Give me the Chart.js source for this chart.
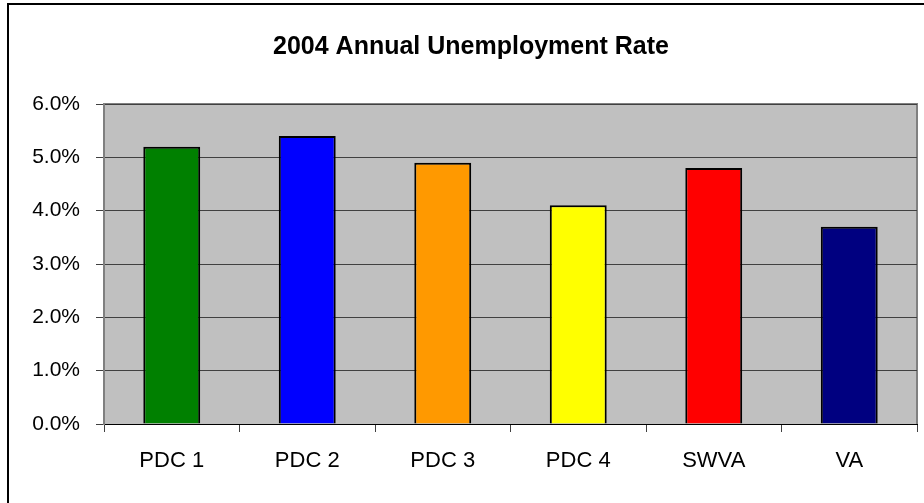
<!DOCTYPE html>
<html>
<head>
<meta charset="utf-8">
<script src="https://cdn.jsdelivr.net/npm/chart.js@4/dist/chart.umd.min.js"></script>
<style>
  html, body { margin: 0; padding: 0; background: #fff; }
  #wrap { width: 924px; height: 503px; position: relative; }
</style>
</head>
<body>
<div id="wrap"><canvas id="rateChart" width="924" height="503"></canvas></div>
<script>
const regions = ["PDC 1", "PDC 2", "PDC 3", "PDC 4", "SWVA", "VA"];
const rates = [5.2, 5.4, 4.9, 4.1, 4.8, 3.7];
const barColors = ["#008000", "#0000FF", "#FF9900", "#FFFF00", "#FF0000", "#000080"];
const chartTitle = "2004 Annual Unemployment Rate";

// grey plot area + outer frame like the old excel chart
const plotBackground = {
    id: 'plotBackground',
    beforeDraw(chart) {
        const ctx = chart.ctx;
        const a = chart.chartArea;
        ctx.save();
        ctx.fillStyle = '#fff';
        ctx.fillRect(0, 0, chart.width, chart.height);
        ctx.strokeStyle = '#000';
        ctx.lineWidth = 2;
        ctx.beginPath();
        ctx.moveTo(8, chart.height);
        ctx.lineTo(8, 4);
        ctx.lineTo(chart.width, 4);
        ctx.stroke();
        ctx.fillStyle = '#C0C0C0';
        ctx.fillRect(a.left, a.top, a.right - a.left, a.bottom - a.top);
        ctx.strokeStyle = '#808080';
        ctx.lineWidth = 2;
        ctx.beginPath();
        ctx.moveTo(a.left, a.top);
        ctx.lineTo(a.right, a.top);
        ctx.lineTo(a.right, a.bottom);
        ctx.stroke();
        ctx.restore();
    }
};

function createChart() {
    const ctx = document.getElementById('rateChart').getContext('2d');
    return new Chart(ctx, {
        type: 'bar',
        data: {
            labels: regions,
            datasets: [{
                data: rates,
                backgroundColor: barColors,
                borderColor: '#000',
                borderWidth: 2,
                categoryPercentage: 1,
                barPercentage: 0.42
            }]
        },
        options: {
            responsive: false,
            animation: false,
            layout: {
                padding: { left: 25, right: 7, top: 0, bottom: 0 }
            },
            plugins: {
                legend: { display: false },
                tooltip: { enabled: false },
                title: {
                    display: true,
                    text: chartTitle,
                    color: '#000',
                    font: { family: 'Liberation Sans', size: 25, weight: 'bold' },
                    padding: { top: 32, bottom: 42 }
                }
            },
            scales: {
                x: {
                    grid: {
                        offset: true,
                        drawOnChartArea: false,
                        tickLength: 8,
                        color: '#404040'
                    },
                    border: { color: '#000', width: 1 },
                    ticks: {
                        color: '#000',
                        padding: 16,
                        font: { family: 'Liberation Sans', size: 22 }
                    },
                    afterFit(scale) { scale.height = 79; }
                },
                y: {
                    min: 0,
                    max: 6,
                    grid: {
                        color: '#404040',
                        tickLength: 8
                    },
                    border: { color: '#808080', width: 2 },
                    ticks: {
                        stepSize: 1,
                        color: '#000',
                        padding: 16,
                        font: { family: 'Liberation Sans', size: 21 },
                        callback: function (v) { return v.toFixed(1) + '%'; }
                    },
                    afterFit(scale) { scale.width = 79; }
                }
            }
        },
        plugins: [plotBackground]
    });
}

var rateChart = createChart();
</script>
</body>
</html>
